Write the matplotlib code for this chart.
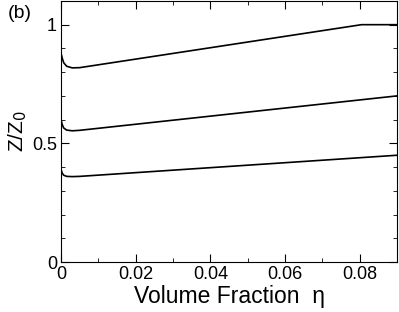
import numpy as np
import matplotlib
matplotlib.use('Agg')
import matplotlib.pyplot as plt
from matplotlib.ticker import MultipleLocator, FuncFormatter

plt.rcParams['font.family'] = ['Liberation Sans', 'DejaVu Sans']

eta = [0, 0.0003, 0.0007, 0.0015, 0.003, 0.005, 0.0805, 0.09]
z_top = [0.88, 0.86, 0.84, 0.825, 0.818, 0.819, 1.0, 1.0]
eta_lo = [0, 0.0003, 0.0007, 0.0015, 0.003, 0.005, 0.09]
z_mid = [0.60, 0.58, 0.565, 0.556, 0.553, 0.555, 0.70]
z_bot = [0.39, 0.375, 0.366, 0.361, 0.36, 0.361, 0.45]

fig = plt.figure(figsize=(3.99, 3.12), dpi=100)
ax = fig.add_axes([0.153, 0.160, 0.842, 0.837])

ax.plot(eta, z_top, color='black', lw=1.2)
ax.plot(eta_lo, z_mid, color='black', lw=1.2)
ax.plot(eta_lo, z_bot, color='black', lw=1.2)

ax.set_xlim(0, 0.09)
ax.set_ylim(0, 1.1)
ax.xaxis.set_major_locator(MultipleLocator(0.02))
ax.xaxis.set_minor_locator(MultipleLocator(0.01))
ax.yaxis.set_major_locator(MultipleLocator(0.5))
ax.yaxis.set_minor_locator(MultipleLocator(0.1))
ax.xaxis.set_major_formatter(FuncFormatter(lambda v, p: '0' if v == 0 else '%g' % v))
ax.yaxis.set_major_formatter(FuncFormatter(lambda v, p: '%g' % v))
ax.tick_params(which='both', direction='in', top=True, right=True, labelsize=13, pad=3)
ax.tick_params(which='major', length=6)
ax.tick_params(which='minor', length=3)

ax.set_xlabel('Volume Fraction  \u03b7', fontsize=16.5, labelpad=1)
ax.set_ylabel('Z/Z$_0$', fontsize=15, labelpad=2)
fig.text(0.02, 0.985, '(b)', fontsize=14, va='top')

fig.savefig('out.png', dpi=100)
